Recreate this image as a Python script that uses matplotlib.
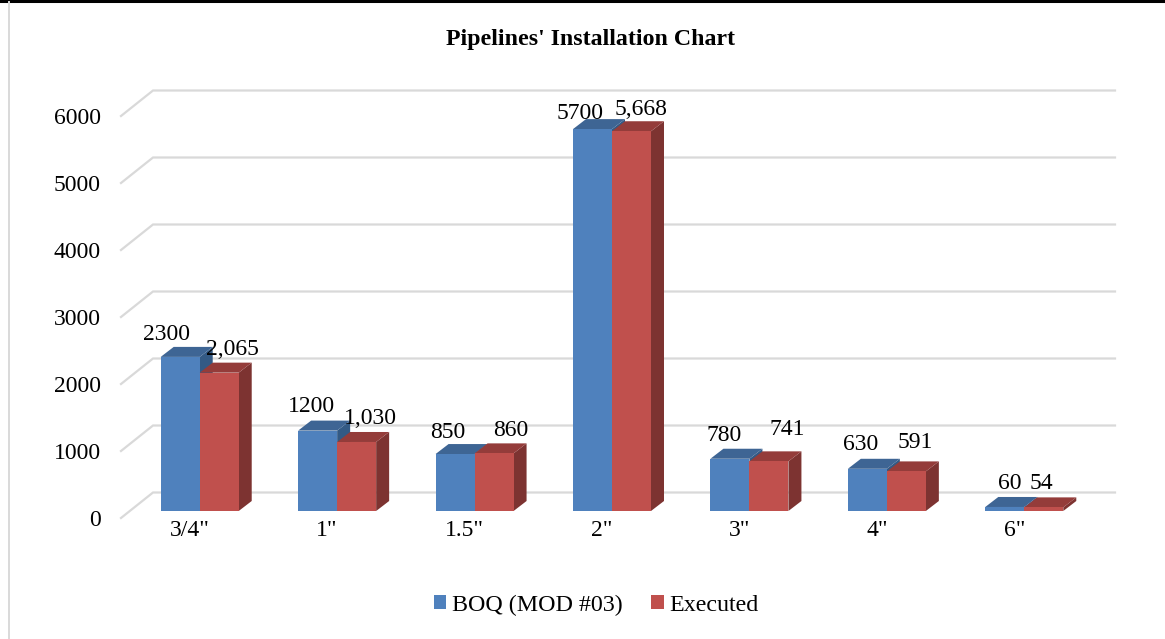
import numpy as np
import matplotlib
matplotlib.use('Agg')
import matplotlib.pyplot as plt
from matplotlib.lines import Line2D
from matplotlib.patches import Polygon, Patch
from matplotlib.transforms import Affine2D

categories = ['3/4"', '1"', '1.5"', '2"', '3"', '4"', '6"']
boq = [2300, 1200, 850, 5700, 780, 630, 60]
executed = [2065, 1030, 860, 5668, 741, 591, 54]
boq_labels = ['2300', '1200', '850', '5700', '780', '630', '60']
executed_labels = ['2,065', '1,030', '860', '5,668', '741', '591', '54']
yticks = [0, 1000, 2000, 3000, 4000, 5000, 6000]

# label nudges in pixels, the labels were placed by hand in the original
boq_nudge = [(-14, 24), (-6, 25), (-7, 23), (-12, 17), (-6, 25), (-7, 26), (5, 25)]
executed_nudge = [(13, 25), (14, 25), (17, 24), (9, 23), (18, 33), (9, 30), (-2, 25)]

W, H = 1165, 639
plt.rcParams['font.family'] = ['Liberation Serif', 'DejaVu Serif']

fig = plt.figure(figsize=(W / 100, H / 100), dpi=100)
# axes is the front plane of the fake 3d box
left, right, top, bottom = 121, 1083, 116, 518
ax = fig.add_axes([left / W, 1 - bottom / H, (right - left) / W, (bottom - top) / H])
ax.set_xlim(-0.5, 6.5)
ax.set_ylim(0, 6000)
ax.patch.set_alpha(0)
for s in ax.spines.values():
    s.set_visible(False)

px_x = 7 / (right - left)
px_y = 6000 / (bottom - top)

# gridlines, front edge then along the back wall
for v in yticks:
    ax.plot([-0.5, -0.5 + 32 * px_x, 6.5 + 32 * px_x], [v, v + 25.5 * px_y, v + 25.5 * px_y],
            color='#D9D9D9', lw=1.6, clip_on=False, zorder=1, solid_joinstyle='miter')

# bars sit in the middle of the depth
bar_tr = ax.transData + Affine2D().translate(10, 7)
bar_w = 39 * px_x
dx = 13 * px_x
dy = 10 * px_y


def draw_bar(x0, val, front, top_col, side_col, z):
    x1 = x0 + bar_w
    ax.add_patch(Polygon([(x1, 0), (x1 + dx, dy), (x1 + dx, val + dy), (x1, val)],
                         fc=side_col, ec='none', transform=bar_tr, clip_on=False, zorder=z))
    ax.add_patch(Polygon([(x0, val), (x0 + dx, val + dy), (x1 + dx, val + dy), (x1, val)],
                         fc=top_col, ec='none', transform=bar_tr, clip_on=False, zorder=z))
    ax.bar(x0, val, bar_w, align='edge', color=front, transform=bar_tr, clip_on=False, zorder=z + 0.5)


def put_label(txt, x, val, nudge):
    # pixels to points at dpi 100
    ax.annotate(txt, (x, val), xycoords=bar_tr, xytext=(nudge[0] * 0.72, nudge[1] * 0.72 - 1),
                textcoords='offset points', ha='center', va='center', fontsize=17, color='black',
                zorder=20, annotation_clip=False)


for i in range(len(categories)):
    draw_bar(i - bar_w, boq[i], '#4F81BD', '#3E6594', '#335A85', 3 + i)
    draw_bar(i, executed[i], '#C0504D', '#943C3A', '#7D3331', 3.7 + i)
    put_label(boq_labels[i], i - bar_w / 2, boq[i], boq_nudge[i])
    put_label(executed_labels[i], i + bar_w / 2, executed[i], executed_nudge[i])

ax.set_yticks(yticks)
ax.set_yticklabels([str(v) for v in yticks], fontsize=17)
ax.set_xticks(range(len(categories)))
ax.set_xticklabels(categories, fontsize=17)
ax.tick_params(axis='y', length=0, pad=14.5)
ax.tick_params(axis='x', length=0, pad=1.5)

fig.text(591 / W, 1 - 40 / H, "Pipelines' Installation Chart", ha='center', va='center',
         fontsize=17.2, fontweight='bold')

handles = [Patch(fc='#4F81BD', label='BOQ (MOD #03)'), Patch(fc='#C0504D', label='Executed')]
fig.legend(handles=handles, loc='center', bbox_to_anchor=(596 / W, 1 - 605 / H), ncol=2, frameon=False,
           fontsize=17.3, handlelength=0.52, handleheight=0.52, handletextpad=0.22, columnspacing=1.2)

# page rule on top and faint frame on the left
fig.add_artist(Line2D([0, 1], [1 - 1 / H, 1 - 1 / H], color='black', lw=2.2))
fig.add_artist(Line2D([9 / W, 9 / W], [0, 1 - 2 / H], color='#D9D9D9', lw=1.4))

fig.savefig('out.png', dpi=100)
